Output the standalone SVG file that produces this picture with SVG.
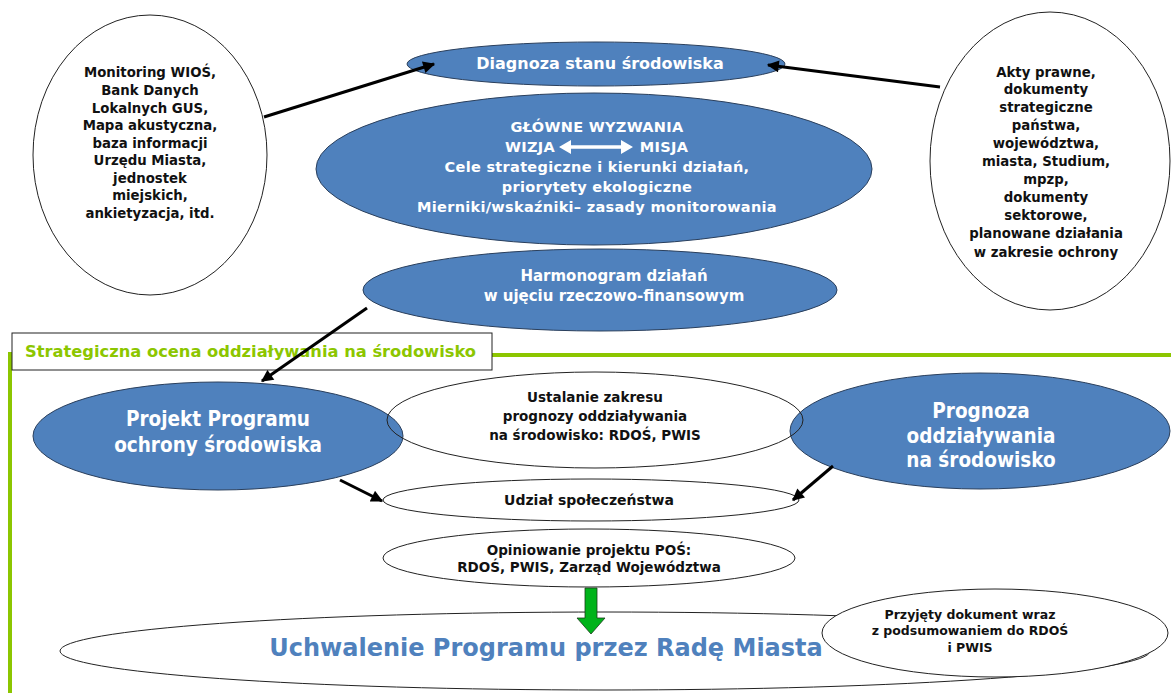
<svg xmlns="http://www.w3.org/2000/svg" width="1171" height="693" viewBox="0 0 1171 693">
<style>
.blue{fill:#4f81bd;stroke:#2a3f5c;stroke-width:1}
.wh{fill:#fff;stroke:#222;stroke-width:1}
.no{fill:none;stroke:#222;stroke-width:1}
.t{font-family:"DejaVu Sans",sans-serif;font-weight:bold;text-anchor:middle}
.c{font-family:"DejaVu Sans Condensed","DejaVu Sans",sans-serif}
.bk{fill:#111;font-size:13.3px}
.wt{fill:#fff;font-size:14.5px;letter-spacing:0.3px}
.big{fill:#fff;font-size:20.5px}
.con{stroke:#000;stroke-width:3;fill:none;marker-end:url(#ah)}
</style>
<defs>
<marker id="ah" viewBox="0 0 10 10" refX="9" refY="5" markerWidth="4.5" markerHeight="4" orient="auto" markerUnits="strokeWidth">
<path d="M0,0 L10,5 L0,10 z" fill="#000"/>
</marker>
</defs>
<rect width="1171" height="693" fill="#fff"/>

<g id="frame">
<path d="M10,352 V693" stroke="#8cc600" stroke-width="4" fill="none"/>
<path d="M490,355 H1171" stroke="#8cc600" stroke-width="4" fill="none"/>
</g>

<g id="n-left">
<ellipse cx="150" cy="155" rx="117" ry="140" class="wh"/>
<text class="t bk"><tspan x="150" y="77">Monitoring WIOŚ,</tspan><tspan x="150" y="95">Bank Danych</tspan><tspan x="150" y="113">Lokalnych GUS,</tspan><tspan x="150" y="130">Mapa akustyczna,</tspan><tspan x="150" y="148">baza informacji</tspan><tspan x="150" y="165">Urzędu Miasta,</tspan><tspan x="150" y="183">jednostek</tspan><tspan x="150" y="200">miejskich,</tspan><tspan x="150" y="218">ankietyzacja, itd.</tspan></text>
</g>

<g id="n-right">
<ellipse cx="1050" cy="161" rx="120" ry="149" class="wh"/>
<text class="t bk"><tspan x="1046" y="77">Akty prawne,</tspan><tspan x="1046" y="94">dokumenty</tspan><tspan x="1046" y="112">strategiczne</tspan><tspan x="1046" y="130">państwa,</tspan><tspan x="1046" y="148">województwa,</tspan><tspan x="1046" y="166">miasta, Studium,</tspan><tspan x="1046" y="184">mpzp,</tspan><tspan x="1046" y="202">dokumenty</tspan><tspan x="1046" y="220">sektorowe,</tspan><tspan x="1046" y="238">planowane działania</tspan><tspan x="1046" y="257">w zakresie ochrony</tspan></text>
</g>

<g id="n-diagnoza">
<ellipse cx="596" cy="64" rx="189" ry="22" class="blue"/>
<text class="t" style="fill:#fff;font-size:16px" x="600" y="69">Diagnoza stanu środowiska</text>
</g>

<g id="n-glowne">
<ellipse cx="594" cy="169" rx="278" ry="76" class="blue"/>
<text class="t wt"><tspan x="597" y="132">GŁÓWNE WYZWANIA</tspan><tspan x="597" y="172">Cele strategiczne i kierunki działań,</tspan><tspan x="597" y="192">priorytety ekologiczne</tspan><tspan x="597" y="212">Mierniki/wskaźniki– zasady monitorowania</tspan></text>
<text class="t wt" x="530" y="152">WIZJA</text>
<text class="t wt" x="664" y="152">MISJA</text>
<path d="M569,147 H623" stroke="#fff" stroke-width="3.5"/>
<path d="M559,147 L571,140 L571,154 z M633,147 L621,140 L621,154 z" fill="#fff"/>
</g>

<g id="n-harmonogram">
<ellipse cx="600" cy="290" rx="237" ry="41" class="blue"/>
<text class="t wt" style="font-size:15px;letter-spacing:0"><tspan x="614" y="281">Harmonogram działań</tspan><tspan x="614" y="301">w ujęciu rzeczowo-finansowym</tspan></text>
</g>

<g id="n-projekt">
<ellipse cx="218" cy="436" rx="185" ry="54" class="blue"/>
<text class="t c big"><tspan x="218" y="426">Projekt Programu</tspan><tspan x="218" y="452">ochrony środowiska</tspan></text>
</g>

<g id="n-prognoza">
<ellipse cx="980" cy="431" rx="190" ry="58" class="blue"/>
<text class="t c big"><tspan x="981" y="418">Prognoza</tspan><tspan x="981" y="443">oddziaływania</tspan><tspan x="981" y="467">na środowisko</tspan></text>
</g>

<g id="n-ustalanie">
<ellipse cx="595" cy="420" rx="208" ry="48" class="no"/>
<text class="t bk" style="font-size:13.5px"><tspan x="595" y="402">Ustalanie zakresu</tspan><tspan x="595" y="421">prognozy oddziaływania</tspan><tspan x="595" y="440">na środowisko: RDOŚ, PWIS</tspan></text>
</g>

<g id="n-label">
<rect x="12" y="333" width="480" height="37" fill="#fff" stroke="#222" stroke-width="1"/>
<text x="25" y="357" style="font-family:'DejaVu Sans',sans-serif;font-size:16.3px;font-weight:bold;fill:#8cc600">Strategiczna ocena oddziaływania na środowisko</text>
</g>

<g id="n-udzial">
<ellipse cx="591" cy="500" rx="208" ry="21" class="wh"/>
<text class="t bk" style="font-size:14px" x="589" y="505">Udział społeczeństwa</text>
</g>

<g id="n-opiniowanie">
<ellipse cx="589" cy="558" rx="206" ry="29" class="wh"/>
<text class="t bk" style="font-size:13.5px"><tspan x="589" y="555">Opiniowanie projektu POŚ:</tspan><tspan x="589" y="572">RDOŚ, PWIS, Zarząd Województwa</tspan></text>
</g>

<g id="n-uchwalenie">
<ellipse cx="605" cy="651" rx="545" ry="39" class="wh"/>
<text class="t" style="font-size:24px;fill:#4f81bd" x="546" y="656">Uchwalenie Programu przez Radę Miasta</text>
</g>

<g id="n-przyjety">
<ellipse cx="995" cy="633" rx="173" ry="44" class="wh"/>
<text class="t bk" style="font-size:12.5px"><tspan x="970" y="619">Przyjęty dokument wraz</tspan><tspan x="970" y="635">z podsumowaniem do RDOŚ</tspan><tspan x="970" y="652">i PWIS</tspan></text>
</g>

<g id="connectors">
<path class="con" d="M264,117 L434,64"/>
<path class="con" d="M940,87 L768,65"/>
<path class="con" d="M367,308 L262,381"/>
<path class="con" d="M340,480 L382,501"/>
<path class="con" d="M833,466 L793,500"/>
<path d="M585,588 H597 V618 H605 L591,634 L577,618 H585 z" fill="#00b31a" stroke="#1a3a1a" stroke-width="0.8"/>
</g>
</svg>
